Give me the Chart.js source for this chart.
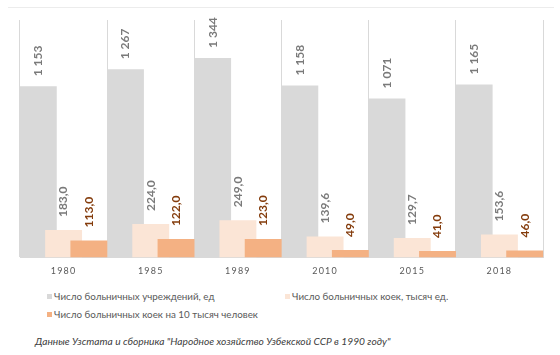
<!DOCTYPE html>
<html><head><meta charset="utf-8">
<script src="https://cdn.jsdelivr.net/npm/chart.js@4/dist/chart.umd.min.js"></script>
<style>
html,body{margin:0;padding:0;background:#fff;width:560px;height:355px;overflow:hidden;position:relative;font-family:Lato,"Open Sans",sans-serif;}
#topline{position:absolute;left:8px;top:7px;width:546px;height:1px;background:#ececec;}
#wrap{position:absolute;left:0;top:0;width:560px;height:285px;}
.leg{position:absolute;font-size:9.8px;color:#595959;white-space:nowrap;line-height:12px;}
.leg i{display:inline-block;width:5px;height:5px;margin-right:2px;vertical-align:1px;}
#src{position:absolute;left:35px;top:335px;font-size:10.2px;font-style:italic;color:#404040;white-space:nowrap;line-height:13px;}
</style></head>
<body>
<div id="topline"></div>
<div id="wrap"><canvas id="c" width="560" height="285"></canvas></div>
<div id="legend"></div>
<div id="src">Данные Узстата и сборника "Народное хозяйство Узбекской ССР в 1990 году"</div>
<script>
const years = ["1980","1985","1989","2010","2015","2018"];
const seriesNames = ["Число больничных учреждений, ед","Число больничных коек, тысяч ед.","Число больничных коек на 10 тысяч человек"];
const hospitals = [1153,1267,1344,1158,1071,1165];
const bedsThousand = [183.0,224.0,249.0,139.6,129.7,153.6];
const bedsPer10k = [113.0,122.0,123.0,49.0,41.0,46.0];

const colors = ["#d9d9d9","#fbe5d6","#f4b183"];
const labelColors = ["#7a7a7a","#7a7a7a","#843c0c"];
const labelOffsets = [10,13,13];
const fmtInt = v => String(Math.round(v)).replace(/\B(?=(\d{3})+(?!\d))/g," ");
const fmtDec = v => v.toFixed(1).replace(".",",");
const formatters = [fmtInt, fmtDec, fmtDec];

const orderPlugin = {
  id:"orderAndLabels",
  beforeDraw(chart){ chart.ctx.letterSpacing = "1.2px"; },
  beforeDatasetsDraw(chart){ chart.ctx.letterSpacing = "0px"; },
  beforeDatasetDraw(){ return false; },
  afterDatasetsDraw(chart){
    const ctx = chart.ctx;
    ctx.letterSpacing = "0px";
    for(let i=0;i<chart.data.datasets.length;i++){
      chart.getDatasetMeta(i).controller.draw();
    }
    ctx.save();
    ctx.font = "bold 12px Lato";
    ctx.textAlign = "left";
    ctx.textBaseline = "middle";
    chart.data.datasets.forEach((ds,i)=>{
      const meta = chart.getDatasetMeta(i);
      meta.data.forEach((el,j)=>{
        ctx.save();
        ctx.fillStyle = labelColors[i];
        ctx.translate(el.x, el.y - labelOffsets[i]);
        ctx.rotate(-Math.PI/2);
        ctx.fillText(formatters[i](ds.data[j]),0,0);
        ctx.restore();
      });
    });
    ctx.restore();
  }
};

new Chart(document.getElementById("c"),{
  type:"bar",
  data:{
    labels:years,
    datasets:[
      {label:seriesNames[0],data:hospitals,backgroundColor:colors[0]},
      {label:seriesNames[1],data:bedsThousand,backgroundColor:colors[1]},
      {label:seriesNames[2],data:bedsPer10k,backgroundColor:colors[2]}
    ]
  },
  options:{
    responsive:false,
    animation:false,
    categoryPercentage:0.87,
    barPercentage:1.46,
    layout:{padding:{top:20,left:20,right:17,bottom:1}},
    plugins:{legend:{display:false},tooltip:{enabled:false}},
    scales:{
      x:{
        grid:{color:"#d9d9d9",offset:true,drawTicks:false},
        border:{color:"#d9d9d9"},
        ticks:{padding:8,color:"#595959",font:{family:"Lato",size:9}}
      },
      y:{display:false,min:0,max:1600}
    }
  },
  plugins:[orderPlugin]
});

// HTML legend
const legend = document.getElementById("legend");
const legPos = [[47,290],[285,290],[47,308]];
seriesNames.forEach((n,i)=>{
  const d = document.createElement("div");
  d.className = "leg";
  d.style.left = legPos[i][0]+"px";
  d.style.top = legPos[i][1]+"px";
  d.innerHTML = '<i style="background:'+colors[i]+'"></i>'+n;
  legend.appendChild(d);
});
</script>
</body></html>
